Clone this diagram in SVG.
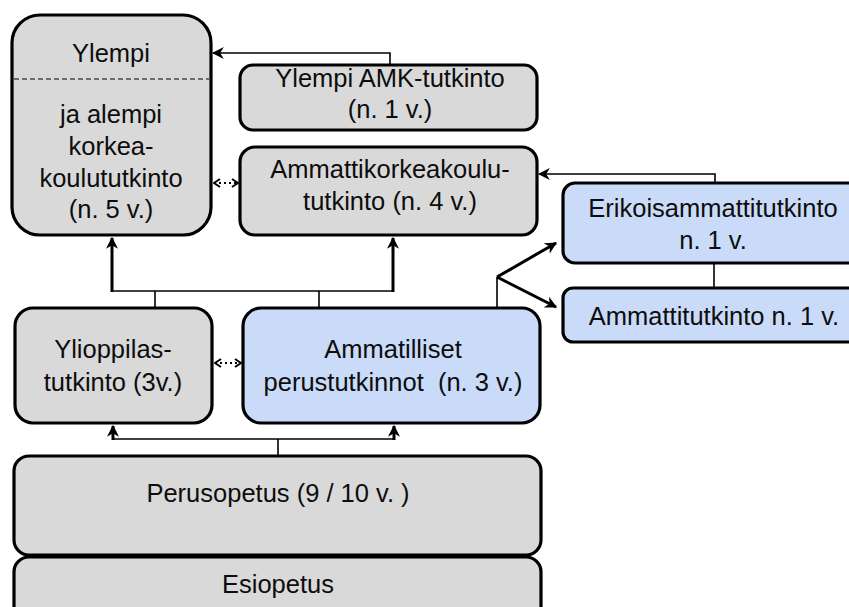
<svg xmlns="http://www.w3.org/2000/svg" width="849" height="607" viewBox="0 0 849 607">
  <style>
    .box { stroke: #000; stroke-width: 3.2; }
    .gray { fill: #d9d9d9; }
    .blue { fill: #c9dbf8; }
    .label { font-family: "Liberation Sans", Arial, sans-serif; font-size: 25.5px; fill: #0d0d0d; text-anchor: middle; }
    .thin { fill: none; stroke: #000; stroke-width: 1.6; }
    .thick { fill: none; stroke: #000; stroke-width: 3; }
    .dots { fill: none; stroke: #000; stroke-width: 2; stroke-dasharray: 2 3; }
  </style>
  <defs>
    <marker id="arrow" viewBox="0 0 10 10" refX="9" refY="5" markerWidth="12" markerHeight="12" markerUnits="userSpaceOnUse" orient="auto">
      <path d="M0,0 L10,5 L0,10 L3,5 z" fill="#000"/>
    </marker>
    <marker id="chevron" viewBox="0 0 8 10" refX="7" refY="5" markerWidth="8" markerHeight="10" markerUnits="userSpaceOnUse" orient="auto-start-reverse">
      <path d="M1,1 L7,5 L1,9" fill="none" stroke="#000" stroke-width="2"/>
    </marker>
  </defs>

  <g id="korkeakoulututkinto">
    <rect class="box gray" x="12" y="15" width="199" height="220" rx="28"/>
    <line x1="14" y1="79" x2="209" y2="79" stroke="#000" stroke-width="1.2" stroke-dasharray="5 3"/>
    <text class="label" x="111" y="62">Ylempi</text>
    <text class="label" x="111" y="123">ja alempi</text>
    <text class="label" x="111" y="155">korkea-</text>
    <text class="label" x="111" y="187">koulututkinto</text>
    <text class="label" x="111" y="218">(n. 5 v.)</text>
  </g>

  <g id="ylempi-amk">
    <rect class="box gray" x="240" y="65" width="297" height="65" rx="13"/>
    <text class="label" x="390" y="87">Ylempi AMK-tutkinto</text>
    <text class="label" x="390" y="118">(n. 1 v.)</text>
  </g>

  <g id="amk-tutkinto">
    <rect class="box gray" x="240" y="147" width="297" height="88" rx="15"/>
    <text class="label" x="390" y="178">Ammattikorkeakoulu-</text>
    <text class="label" x="390" y="210">tutkinto (n. 4 v.)</text>
  </g>

  <g id="erikoisammattitutkinto">
    <rect class="box blue" x="563" y="183" width="300" height="80" rx="12"/>
    <text class="label" x="713" y="217">Erikoisammattitutkinto</text>
    <text class="label" x="713" y="249">n. 1 v.</text>
  </g>

  <g id="ammattitutkinto">
    <rect class="box blue" x="563" y="288" width="300" height="54" rx="10"/>
    <text class="label" x="714" y="325">Ammattitutkinto n. 1 v.</text>
  </g>

  <g id="ylioppilastutkinto">
    <rect class="box gray" x="15" y="308" width="197" height="115" rx="18"/>
    <text class="label" x="113" y="358">Ylioppilas-</text>
    <text class="label" x="113" y="391">tutkinto (3v.)</text>
  </g>

  <g id="ammatilliset">
    <rect class="box blue" x="243" y="308" width="297" height="115" rx="18"/>
    <text class="label" x="393" y="358">Ammatilliset</text>
    <text class="label" x="393" y="391" xml:space="preserve">perustutkinnot  (n. 3 v.)</text>
  </g>

  <g id="perusopetus">
    <rect class="box gray" x="14" y="456" width="527" height="99" rx="15"/>
    <text class="label" x="278" y="502">Perusopetus (9 / 10 v. )</text>
  </g>

  <g id="esiopetus">
    <rect class="box gray" x="14" y="557" width="527" height="70" rx="15"/>
    <text class="label" x="278" y="593">Esiopetus</text>
  </g>

  <g id="connectors">
    <!-- to the upper degree box -->
    <path class="thin" d="M390,65 V53 H213" marker-end="url(#arrow)"/>
    <!-- specialist qualification to polytechnic degree -->
    <path class="thin" d="M715,183 V174 H539" marker-end="url(#arrow)"/>
    <!-- two-way dotted links -->
    <line class="dots" x1="214" y1="183" x2="238" y2="183" marker-start="url(#chevron)" marker-end="url(#chevron)"/>
    <line class="dots" x1="215" y1="363" x2="241" y2="363" marker-start="url(#chevron)" marker-end="url(#chevron)"/>
    <!-- second level to higher education -->
    <line class="thin" x1="112" y1="291" x2="393" y2="291"/>
    <path class="thick" d="M112,292 V238" marker-end="url(#arrow)"/>
    <path class="thick" d="M393,292 V238" marker-end="url(#arrow)"/>
    <line class="thin" x1="155" y1="291" x2="155" y2="307"/>
    <line class="thin" x1="319" y1="291" x2="319" y2="307"/>
    <!-- vocational branches -->
    <line class="thin" x1="497" y1="307" x2="497" y2="277"/>
    <path class="thick" d="M497,277 L556,243" marker-end="url(#arrow)"/>
    <path class="thick" d="M497,277 L556,307" marker-end="url(#arrow)"/>
    <line class="thin" x1="714" y1="263" x2="714" y2="288"/>
    <!-- basic education upward -->
    <line class="thin" x1="113" y1="439" x2="394" y2="439"/>
    <line class="thin" x1="278" y1="439" x2="278" y2="456"/>
    <path class="thick" d="M113,440 V426" marker-end="url(#arrow)"/>
    <path class="thick" d="M394,440 V426" marker-end="url(#arrow)"/>
  </g>
</svg>
